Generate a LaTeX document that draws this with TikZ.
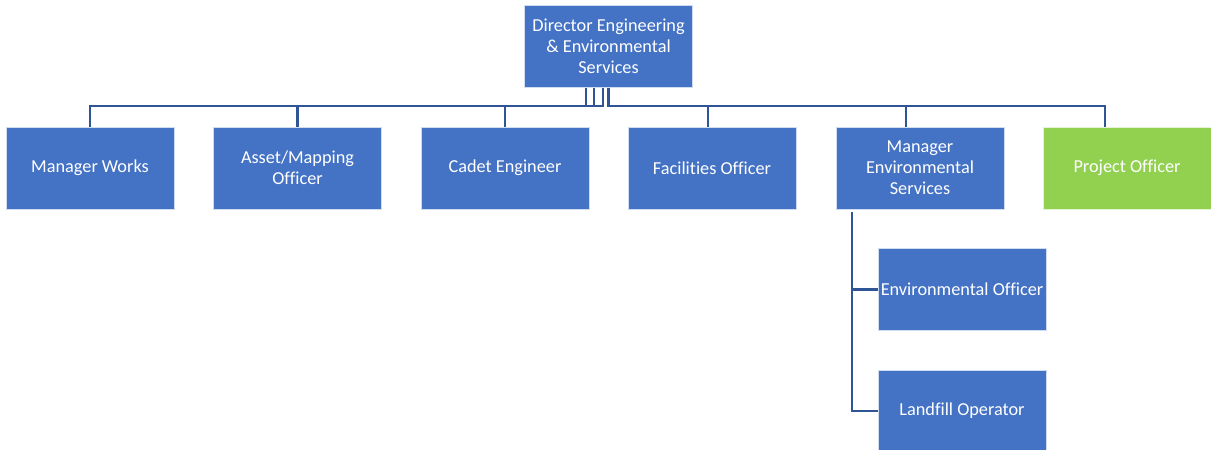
\documentclass[tikz,border=0pt]{standalone}
\usepackage{fontspec}
\setmainfont{Carlito}[Ligatures={NoCommon,NoRequired,NoContextual}]
\definecolor{boxblue}{HTML}{4472C4}
\definecolor{boxgreen}{HTML}{92D050}
\definecolor{linkblue}{HTML}{2F5597}
\begin{document}
\begin{tikzpicture}[x=0.75pt,y=-0.75pt,
  orgbox/.style={fill=boxblue,draw=white!75!boxblue,line width=0.4pt,minimum width=126pt,minimum height=61.5pt,
    align=center,text=white,inner sep=1pt,font=\fontsize{13.7}{15.75}\selectfont},
  greenbox/.style={orgbox,fill=boxgreen,draw=white!75!boxgreen},
  conn/.style={draw=linkblue,line width=1.9pt}]
\useasboundingbox (0,0) rectangle (1211,450);
\node[orgbox] (dir) at (608.5,46.5) {Director Engineering\\\& Environmental\\Services};
\node[orgbox] (mw) at (90,168) {Manager Works};
\node[orgbox] (am) at (297.5,168) {Asset/Mapping\\Officer};
\node[orgbox] (ce) at (505,168) {Cadet Engineer};
\node[orgbox] (fo) at (712,168) {Facilities Officer};
\node[orgbox] (me) at (920,168) {Manager\\Environmental\\Services};
\node[greenbox] (po) at (1127,168) {Project Officer};
\node[orgbox] (eo) at (962,289.5) {Environmental Officer};
\node[orgbox] (lo) at (962,411) {Landfill Operator};
\draw[conn] ([xshift=-16.875pt]dir.south) -- ++(0,18) -| (mw.north);
\draw[conn] ([xshift=-10.875pt]dir.south) -- ++(0,18) -| (am.north);
\draw[conn] ([xshift=-4.125pt]dir.south) -- ++(0,18) -| (ce.north);
\draw[conn] (dir.south) -- ++(0,18) -| ([xshift=-3pt]fo.north);
\draw[conn] (dir.south) -- ++(0,18) -| ([xshift=-10.5pt]me.north);
\draw[conn] (dir.south) -- ++(0,18) -| ([xshift=-16.5pt]po.north);
\coordinate (mebr) at ([xshift=-51pt,yshift=-2.25pt]me.south);
\draw[conn] (mebr) |- (eo.west);
\draw[conn] (mebr) |- (lo.west);
\end{tikzpicture}
\end{document}
